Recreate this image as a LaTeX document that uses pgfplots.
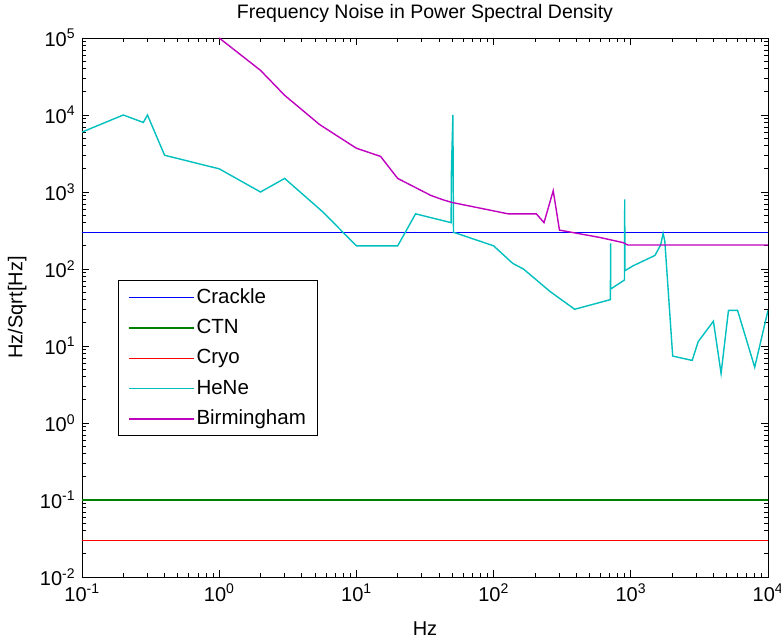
\documentclass[border=0pt]{standalone}
\usepackage{fontspec}
\setmainfont{Liberation Sans}
\usepackage{pgfplots}
\pgfplotsset{compat=1.18}
\usepackage{pgfplotstable}

\definecolor{mblue}{rgb}{0,0,1}
\definecolor{mgreen}{rgb}{0,0.5,0}
\definecolor{mred}{rgb}{1,0,0}
\definecolor{mcyan}{rgb}{0,0.75,0.75}
\definecolor{mmag}{rgb}{0.75,0,0.75}

% HeNe noise curve
\pgfplotstableread{
f      y
0.1    6000
0.2    10000
0.28   8000
0.3    10000
0.4    3000
1      2000
2      1000
3      1500
5.7    550
10     200
20     200
27     520
49     400
49.3   2000
50.5   10000
51     300
100    200
138    118
165    100
258    51
390    30
710    40
712    215
714    55
900    72
903    800
906    95
1040   110
1500   150
1650   205
1720   290
1770   230
2020   7.4
2800   6.5
3100   11.4
4000   21
4550   4.4
5150   29
6000   29
8000   5.3
10000  29
}\hene

% Birmingham curve
\pgfplotstableread{
f      y
1      100000
2      38000
3      18000
5.4    7500
10     3700
15     2900
20     1500
35     900
43     790
50     730
128    520
205    520
233    400
272    1040
302    320
600    256
880    220
950    205
10000  205
}\birm

\begin{document}
\fontsize{20}{24}\selectfont
\begin{tikzpicture}
\begin{axis}[
    scale only axis,
    width=686pt, height=539pt,
    xmode=log, ymode=log,
    xmin=0.1, xmax=10000,
    ymin=0.01, ymax=100000,
    xtick={0.1,1,10,100,1000,10000},
    xticklabels={10\textsuperscript{-1},10\textsuperscript{0},10\textsuperscript{1},10\textsuperscript{2},10\textsuperscript{3},10\textsuperscript{4}},
    ytick={0.01,0.1,1,10,100,1000,10000,100000},
    yticklabels={10\textsuperscript{-2},10\textsuperscript{-1},10\textsuperscript{0},10\textsuperscript{1},10\textsuperscript{2},10\textsuperscript{3},10\textsuperscript{4},10\textsuperscript{5}},
    tick label style={font=\fontsize{20}{24}\selectfont},
    major tick length=7pt,
    minor tick length=4pt,
    tick style={black, line width=0.8pt},
    axis line style={line width=0.9pt},
    title={Frequency Noise in Power Spectral Density},
    title style={font=\fontsize{19.5}{23}\selectfont, at={(0.5,1)}, anchor=south, yshift=3pt},
    xlabel={Hz},
    ylabel={Hz/Sqrt[Hz]},
    label style={font=\fontsize{20}{24}\selectfont},
    xlabel style={yshift=-7pt},
    legend style={at={(0.052,0.551)}, anchor=north west, draw=black, line width=0.9pt,
        font=\fontsize{20.5}{24}\selectfont, row sep=9pt,
        inner xsep=10pt, inner ysep=6pt},
    legend cell align=left,
    legend image code/.code={\draw[#1, line width=1.4pt] (0pt,0pt) -- (65pt,0pt);},
    every axis plot/.append style={line width=1.4pt},
]
\addplot[mblue] coordinates {(0.1,300) (10000,300)};
\addlegendentry{Crackle}
\addplot[mgreen] coordinates {(0.1,0.1) (10000,0.1)};
\addlegendentry{CTN}
\addplot[mred] coordinates {(0.1,0.03) (10000,0.03)};
\addlegendentry{Cryo}
\addplot[mcyan] table[x=f,y=y] {\hene};
\addlegendentry{HeNe}
\addplot[mmag] table[x=f,y=y] {\birm};
\addlegendentry{Birmingham}
\end{axis}
\pgfresetboundingbox
\path ([shift={(-82pt,-65pt)}]current axis.south west) rectangle ([shift={(13pt,38pt)}]current axis.north east);
\end{tikzpicture}
\end{document}
